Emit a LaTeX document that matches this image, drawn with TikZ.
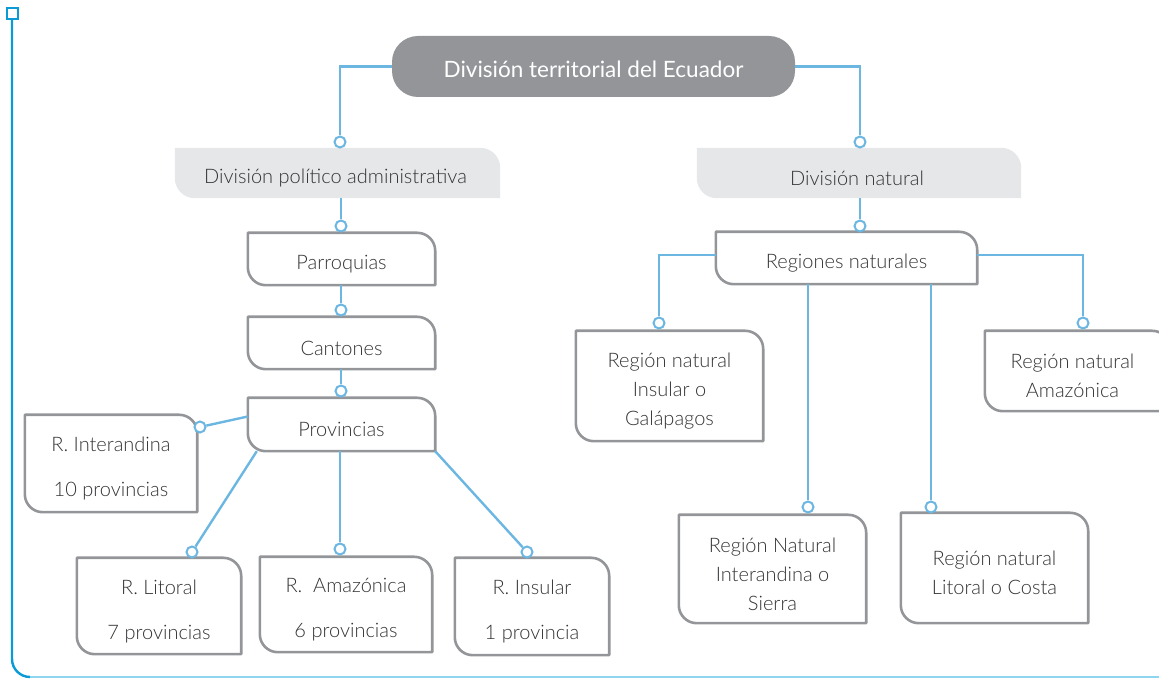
\documentclass[tikz,border=0pt]{standalone}
\usepackage{fontspec}
\setmainfont{Lato Light}
\newfontfamily\titlefont{Lato}
\usepackage{tikz}
\usepackage{xcolor}
\usetikzlibrary{backgrounds}

\definecolor{linkblue}{HTML}{6CB6E2}
\definecolor{framedark}{HTML}{0A9AD6}
\definecolor{framelight}{HTML}{8ED5F2}
\definecolor{boxgray}{HTML}{939598}
\definecolor{tabgray}{HTML}{E6E7E8}
\definecolor{txtgray}{HTML}{333335}

\tikzset{
  conn/.style={draw=linkblue, line width=2.4pt},
  dot/.style={circle, draw=linkblue, fill=white, line width=2pt, minimum size=11pt, inner sep=0pt},
  rbox/.style 2 args={inner sep=0pt, minimum width=#1pt, minimum height=#2pt},
  boxtext/.style={inner sep=0pt, text=txtgray, align=center, font=\fontsize{20}{29}\selectfont},
  title/.style={fill=boxgray, rounded corners=26pt, inner sep=0pt,
    minimum width=403pt, minimum height=61pt},
  titletext/.style={inner sep=0pt, text=white, font=\titlefont\fontsize{22.5}{27}\selectfont},
  outline/.style={draw=boxgray, line width=2.6pt, line join=round},
  tabfill/.style={fill=tabgray},
}

% outline with rounded top right and bottom left corners
\newcommand{\cornerpath}[3]{%
  \path[#2] (#1.north west) -- ([xshift=-#3]#1.north east)
    arc[start angle=90, end angle=0, radius=#3] -- (#1.south east)
    -- ([xshift=#3]#1.south west) arc[start angle=270, end angle=180, radius=#3] -- cycle;}

\begin{document}
\begin{tikzpicture}[x=1pt, y=1pt]
    \useasboundingbox (0,0) rectangle (1159,679);
    \clip (0,0) rectangle (1159,679);

    % frame
    \draw[framedark, line width=2.4pt] (12,659) -- (12,20) arc[start angle=180, end angle=270, radius=18pt];
    \draw[framelight, line width=2.4pt] (30,2) -- (1159,2);
    \draw[framedark, line width=2pt, fill=white] (6.5,659.5) rectangle (17.5,670.5);

    % title and tabs
    \node[title] (tit) at (593.5,612.5) {};
    \node[rbox={325}{50}] (pol) at (337.5,506) {};
    \node[rbox={324}{50}] (nat) at (859,506) {};
    \begin{pgfonlayer}{background}
        \cornerpath{pol}{tabfill}{20pt}
        \cornerpath{nat}{tabfill}{20pt}
    \end{pgfonlayer}

    % left branch
    \node[rbox={187}{52}] (parr) at (341.5,420) {};
    \node[rbox={187}{52}] (cant) at (341.5,336) {};
    \node[rbox={187}{53}] (prov) at (341.5,254.5) {};
    \node[rbox={172}{97}] (inter) at (111,215.5) {};
    \node[rbox={164}{96}] (lit) at (159,73) {};
    \node[rbox={172}{95}] (amaz) at (346,74.5) {};
    \node[rbox={154}{97}] (ins) at (532,72.5) {};

    % right branch
    \node[rbox={261}{52}] (reg) at (846.5,421) {};
    \node[rbox={187}{110}] (gal) at (669.5,293) {};
    \node[rbox={185}{80}] (ama) at (1077.5,308) {};
    \node[rbox={187}{108}] (sie) at (772.5,110) {};
    \node[rbox={187}{110}] (cos) at (994.5,111) {};

    \foreach \n in {parr,cant,prov,inter,lit,amaz,ins,reg,gal,ama,sie,cos}
        \cornerpath{\n}{outline}{18pt};

    % texts
    \node[titletext] (tit-t) at ([yshift=-3pt]tit) {División territorial del Ecuador};
    \node[boxtext] (pol-t) at ([xshift=-2pt, yshift=-5pt]pol) {División político administrativa};
    \node[boxtext] (nat-t) at ([xshift=-2pt, yshift=-5pt]nat) {División natural};
    \node[boxtext] (parr-t) at ([yshift=-5pt]parr) {Parroquias};
    \node[boxtext] (cant-t) at ([yshift=-5pt]cant) {Cantones};
    \node[boxtext] (prov-t) at ([yshift=-5pt]prov) {Provincias};
    \node[boxtext] (inter-t) at ([yshift=-5pt]inter) {R. Interandina\\[16pt] 10 provincias};
    \node[boxtext] (lit-t) at ([yshift=-5pt]lit) {R. Litoral\\[16pt] 7 provincias};
    \node[boxtext] (amaz-t) at ([yshift=-5pt]amaz) {R.~\ Amazónica\\[16pt] 6 provincias};
    \node[boxtext] (ins-t) at ([yshift=-5pt]ins) {R. Insular\\[16pt] 1 provincia};
    \node[boxtext] (reg-t) at ([yshift=-5pt]reg) {Regiones naturales};
    \node[boxtext] (gal-t) at ([yshift=-5pt]gal) {Región natural\\ Insular o\\ Galápagos};
    \node[boxtext] (ama-t) at ([xshift=-5pt, yshift=-5pt]ama) {Región natural\\ Amazónica};
    \node[boxtext] (sie-t) at ([yshift=-5pt]sie) {Región Natural\\ Interandina o\\ Sierra};
    \node[boxtext] (cos-t) at ([yshift=-5pt]cos) {Región natural\\ Litoral o Costa};

    % dots
    \node[dot] (d_pol) at (340,537) {};
    \node[dot] (d_nat) at (860,537) {};
    \node[dot] (d_parr) at (341,453) {};
    \node[dot] (d_cant) at (341,369) {};
    \node[dot] (d_prov) at (341,288) {};
    \node[dot] (d_inter) at (200,252) {};
    \node[dot] (d_lit) at (192,127) {};
    \node[dot] (d_amaz) at (340,130) {};
    \node[dot] (d_ins) at (527,127) {};
    \node[dot] (d_reg) at (860,453) {};
    \node[dot] (d_gal) at (659,356) {};
    \node[dot] (d_ama) at (1083,356) {};
    \node[dot] (d_sie) at (808,172) {};
    \node[dot] (d_cos) at (931,172) {};

    % connectors
    \draw[conn] (tit.west) -| (d_pol);
    \draw[conn] (tit.east) -| (d_nat);
    \draw[conn] (d_parr |- pol.south) -- (d_parr);
    \draw[conn] (d_reg |- nat.south) -- (d_reg);
    \draw[conn] (d_cant |- parr.south) -- (d_cant);
    \draw[conn] (d_prov |- cant.south) -- (d_prov);
    \draw[conn] ([yshift=8pt]prov.west) -- (d_inter);
    \draw[conn] ([xshift=9pt]prov.south west) -- (d_lit);
    \draw[conn] (d_amaz |- prov.south) -- (d_amaz);
    \draw[conn] (prov.south east) -- (d_ins);
    \draw[conn] ([yshift=3pt]reg.west) -| (d_gal);
    \draw[conn] ([yshift=3pt]reg.east) -| (d_ama);
    \draw[conn] (d_sie |- reg.south) -- (d_sie);
    \draw[conn] (d_cos |- reg.south) -- (d_cos);
\end{tikzpicture}
\end{document}
